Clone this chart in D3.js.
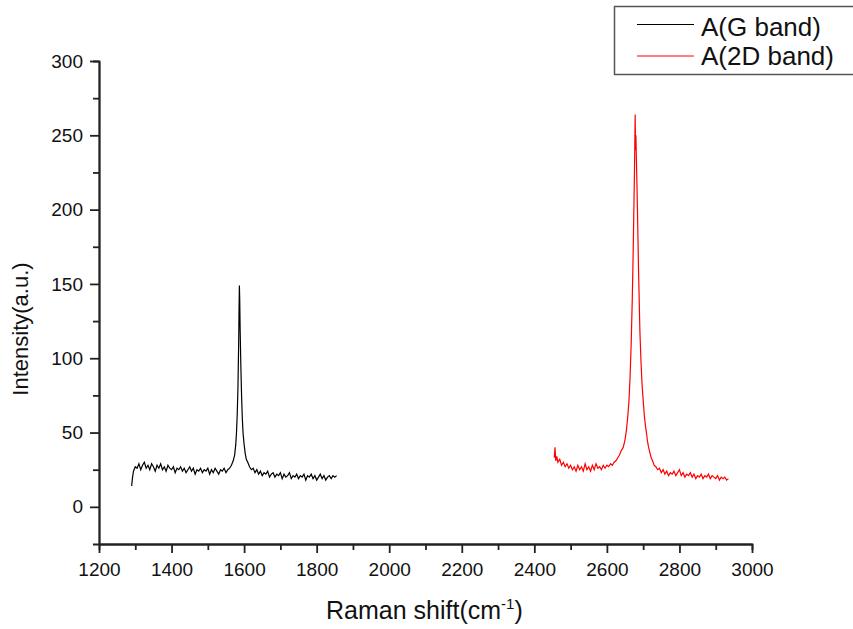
<!DOCTYPE html>
<html>
<head>
<meta charset="utf-8">
<script src="https://cdn.jsdelivr.net/npm/d3@7"></script>
<style>
  body { margin: 0; background: #fff; }
  svg { display: block; font-family: "Liberation Sans", Arial, sans-serif; }
</style>
</head>
<body>
<div class="chart"></div>
<script>
// G band spectrum (Raman shift, intensity)
var gShift = [1290,1292,1295,1300,1305,1310,1315,1320,1325,1330,1335,1340,1345,1350,1355,1360,1365,1370,1375,1380,
  1385,1390,1395,1400,1405,1410,1415,1420,1425,1430,1435,1440,1445,1450,1455,1460,1465,1470,1475,1480,
  1485,1490,1495,1500,1505,1510,1515,1520,1525,1530,1535,1540,1545,1550,1555,1560,1565,1570,1574,1577,
  1579,1581,1583,1585,1586,1587,1588,1589,1591,1593,1595,1597,1600,1603,1606,1610,1615,1620,1625,1630,
  1635,1640,1645,1650,1655,1660,1665,1670,1675,1680,1685,1690,1695,1700,1705,1710,1715,1720,1725,1730,
  1735,1740,1745,1750,1755,1760,1765,1770,1775,1780,1785,1790,1795,1800,1805,1810,1815,1820,1825,1830,
  1835,1840,1845,1850,1855];
var gIntensity = [14,19,24,27,26,29,25,28,30,26,28,25,29,27,24,28,26,29,25,27,
  24,28,26,25,27,23,26,25,27,24,26,23,25,27,24,26,22,25,24,26,
  23,25,24,26,22,25,23,26,24,22,25,24,26,23,25,26,28,31,35,42,
  50,62,80,110,132,149,138,120,95,75,60,50,42,36,32,30,27,25,26,23,
  25,22,24,21,23,22,24,20,22,23,20,22,21,23,19,22,20,21,23,19,
  21,20,22,19,21,20,22,18,21,20,22,19,21,18,20,22,19,21,18,20,
  21,19,21,20,21];

// 2D band spectrum
var dShift = [2455,2457,2459,2462,2465,2470,2475,2480,2485,2490,2495,2500,2505,2510,2515,2520,2525,2530,2535,2540,
  2545,2550,2555,2560,2565,2570,2575,2580,2585,2590,2595,2600,2605,2610,2615,2620,2625,2630,2635,2640,
  2645,2650,2654,2658,2661,2664,2667,2670,2672,2674,2676,2677,2678,2679,2680,2681,2683,2685,2687,2689,
  2691,2694,2697,2700,2703,2706,2709,2712,2715,2718,2722,2726,2730,2735,2740,2745,2750,2755,2760,2765,
  2770,2775,2780,2785,2790,2795,2800,2805,2810,2815,2820,2825,2830,2835,2840,2845,2850,2855,2860,2865,
  2870,2875,2880,2885,2890,2895,2900,2905,2910,2915,2920,2925,2930,2935];
var dIntensity = [33,40,31,34,30,32,28,30,27,29,26,28,25,27,24,28,25,27,24,29,
  25,27,24,28,25,29,26,27,25,28,26,28,27,29,28,30,31,33,35,38,
  40,45,52,62,72,88,110,140,165,195,225,245,264,240,250,238,215,190,162,140,
  118,98,82,72,62,55,50,44,40,37,33,31,28,27,25,26,23,25,22,24,
  21,23,22,24,21,23,25,21,23,20,22,21,23,20,22,19,21,20,22,19,
  21,20,22,19,21,20,19,21,18,20,19,20,18,19];

var seriesNames = ["A(G band)", "A(2D band)"];
var seriesColors = ["#000000", "#ff0000"];
var xTicks = [1200,1400,1600,1800,2000,2200,2400,2600,2800,3000];
var xMinor = [1300,1500,1700,1900,2100,2300,2500,2700,2900];
var yTicks = [0,50,100,150,200,250,300];
var yMinor = [25,75,125,175,225,275];

var width = 853, height = 629;
var plotLeft = 99, plotRight = 752, plotTop = 61, plotBottom = 544;

var svg = d3.select("div.chart").append("svg")
    .attr("width", width)
    .attr("height", height);

var x = d3.scaleLinear().domain([1200, 3000]).range([plotLeft, plotRight]);
var y = d3.scaleLinear().domain([-25, 300]).range([plotBottom, plotTop]);

// minor ticks first, major on top
svg.append("g")
    .attr("transform", "translate(0," + plotBottom + ")")
    .call(d3.axisBottom(x).tickValues(xMinor).tickSize(6).tickFormat(""));
svg.append("g")
    .attr("transform", "translate(" + plotLeft + ",0)")
    .call(d3.axisLeft(y).tickValues(yMinor).tickSize(6).tickFormat(""));

svg.append("g")
    .attr("class", "x axis")
    .attr("transform", "translate(0," + plotBottom + ")")
    .call(d3.axisBottom(x).tickValues(xTicks).tickFormat(d3.format("d"))
        .tickSize(9).tickPadding(10).tickSizeOuter(0));
svg.append("g")
    .attr("class", "y axis")
    .attr("transform", "translate(" + plotLeft + ",0)")
    .call(d3.axisLeft(y).tickValues(yTicks).tickFormat(d3.format("d"))
        .tickSize(9).tickPadding(7).tickSizeOuter(0));

svg.selectAll(".tick text")
    .style("font-size", "19px")
    .style("font-family", "'Liberation Sans', Arial, sans-serif")
    .attr("fill", "#111");
svg.selectAll(".domain, .tick line")
    .attr("stroke", "#222")
    .attr("stroke-width", 1.8);

// spectra
var line = d3.line()
    .x(function(d) { return x(d[0]); })
    .y(function(d) { return y(d[1]); });

var gData = gShift.map(function(s, i) { return [s, gIntensity[i]]; });
var dData = dShift.map(function(s, i) { return [s, dIntensity[i]]; });

svg.append("path")
    .datum(gData)
    .attr("d", line)
    .attr("fill", "none")
    .attr("stroke", seriesColors[0])
    .attr("stroke-width", 1.2);

svg.append("path")
    .datum(dData)
    .attr("d", line)
    .attr("fill", "none")
    .attr("stroke", seriesColors[1])
    .attr("stroke-width", 1.2);

// axis titles
var xTitle = svg.append("text")
    .attr("x", 326)
    .attr("y", 619)
    .style("font-size", "25px")
    .attr("fill", "#111");
xTitle.append("tspan").text("Raman shift(cm");
xTitle.append("tspan").attr("dy", -10).style("font-size", "15px").text("-1");
xTitle.append("tspan").attr("dy", 10).text(")");

svg.append("text")
    .attr("transform", "translate(28,329) rotate(-90)")
    .attr("text-anchor", "middle")
    .style("font-size", "22px")
    .attr("fill", "#111")
    .text("Intensity(a.u.)");

// legend
var legend = svg.append("g").attr("class", "legend");
legend.append("rect")
    .attr("x", 614.5)
    .attr("y", 6.5)
    .attr("width", 260)
    .attr("height", 68)
    .attr("fill", "#fff")
    .attr("stroke", "#555")
    .attr("stroke-width", 1.5);

seriesNames.forEach(function(name, i) {
    var ly = 24.5 + i * 31.5;
    legend.append("line")
        .attr("x1", 637).attr("x2", 694)
        .attr("y1", ly).attr("y2", ly)
        .attr("stroke", seriesColors[i])
        .attr("stroke-width", 1);
    legend.append("text")
        .attr("x", 701)
        .attr("y", 36 + i * 29)
        .style("font-size", "26px")
        .attr("fill", "#111")
        .text(name);
});
</script>
</body>
</html>
